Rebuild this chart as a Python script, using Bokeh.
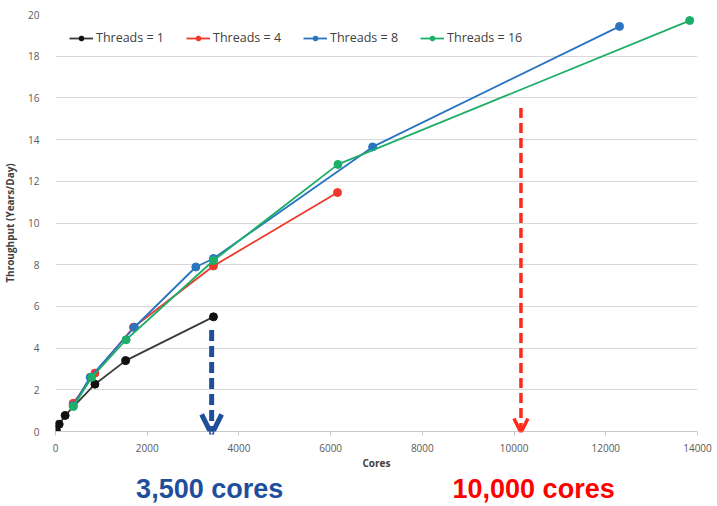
from bokeh.plotting import figure
from bokeh.layouts import column
from bokeh.models import (Legend, LegendItem, Arrow, OpenHead, ColumnDataSource,
                          FixedTicker, Range1d)
from bokeh.core.properties import value
from bokeh.embed import file_html
from bokeh.resources import INLINE

# ---- data ----
cores_t1 = [20, 80, 210, 860, 1530, 3445]
tput_t1 = [0.05, 0.35, 0.77, 2.27, 3.4, 5.5]

cores_t4 = [385, 860, 1700, 3445, 6150]
tput_t4 = [1.35, 2.8, 5.0, 7.94, 11.46]

cores_t8 = [385, 755, 1720, 3060, 3445, 6915, 12300]
tput_t8 = [1.25, 2.6, 5.0, 7.89, 8.3, 13.65, 19.43]

cores_t16 = [390, 790, 1540, 3445, 6160, 13830]
tput_t16 = [1.2, 2.6, 4.4, 8.2, 12.81, 19.71]

series_names = ["Threads = 1", "Threads = 4", "Threads = 8", "Threads = 16"]
series_colors = ["#111111", "#F0382C", "#2A74C0", "#1DAE68"]
line_colors = ["#3A3A3A", "#F0382C", "#2A74C0", "#1DAE68"]

x_ticks = [0, 2000, 4000, 6000, 8000, 10000, 12000, 14000]
y_ticks = [0, 2, 4, 6, 8, 10, 12, 14, 16, 18, 20]

arrow_blue_x = 3405
arrow_blue_y = [4.87, -0.14]
arrow_red_x = 10150
arrow_red_y = [15.52, -0.05]
notes = ["3,500 cores", "10,000 cores"]
notes_x = [3362, 10426]
notes_colors = ["#1F4E9B", "#FF0000"]

FONT = "Open Sans"

p = figure(width=717, height=472, output_backend="svg", toolbar_location=None,
           x_range=Range1d(0, 14000), y_range=Range1d(0, 20),
           min_border_left=55, min_border_right=20, min_border_top=14, min_border_bottom=38)
p.outline_line_color = None
p.background_fill_color = "white"
p.border_fill_color = "white"

p.xgrid.grid_line_color = None
p.ygrid.grid_line_color = "#D9D9D9"
p.ygrid.grid_line_width = 1
p.xaxis.ticker = FixedTicker(ticks=x_ticks)
p.yaxis.ticker = FixedTicker(ticks=y_ticks)
p.xaxis.axis_line_color = "#C8C8C8"
p.xaxis.major_tick_line_color = "#C8C8C8"
p.xaxis.major_tick_in = 0
p.xaxis.major_tick_out = 4
p.xaxis.minor_tick_line_color = None
p.yaxis.axis_line_color = None
p.yaxis.major_tick_line_color = None
p.yaxis.minor_tick_line_color = None
for ax in (p.xaxis, p.yaxis):
    ax.major_label_text_font = FONT
    ax.major_label_text_font_size = "10px"
    ax.major_label_text_color = "#595959"
    ax.axis_label_text_font = FONT
    ax.axis_label_text_font_style = "bold"
    ax.axis_label_text_font_size = "10px"
    ax.axis_label_text_color = "#404040"
p.xaxis.axis_label = "Cores"
p.yaxis.axis_label = "Throughput (Years/Day)"
p.xaxis.major_label_standoff = 8
p.yaxis.major_label_standoff = 10
p.xaxis.axis_label_standoff = 1
p.yaxis.axis_label_standoff = 8

items = []
all_x = [cores_t1, cores_t4, cores_t8, cores_t16]
all_y = [tput_t1, tput_t4, tput_t8, tput_t16]
for name, xs, ys, mc, lc in zip(series_names, all_x, all_y, series_colors, line_colors):
    src = ColumnDataSource(dict(x=xs, y=ys))
    r1 = p.line("x", "y", source=src, line_color=lc, line_width=1.8)
    r2 = p.scatter("x", "y", source=src, size=8, fill_color=mc, line_color=mc)
    items.append(LegendItem(label=name, renderers=[r1, r2]))

legend = Legend(items=items, orientation="horizontal", location=(14, 385),
                border_line_color=None, background_fill_alpha=0,
                label_text_font=FONT, label_text_font_size="12.5px",
                label_text_color="#404040", glyph_width=24, glyph_height=12,
                spacing=22, label_standoff=3, padding=4)
p.add_layout(legend, "center")

# annotations: dashed arrows
p.add_layout(Arrow(x_start=arrow_blue_x, y_start=arrow_blue_y[0], x_end=arrow_blue_x, y_end=arrow_blue_y[1],
                   line_color="#1F4E9B", line_width=5, line_dash="11 5",
                   end=OpenHead(size=20, line_color="#1F4E9B", line_width=5)))
p.add_layout(Arrow(x_start=arrow_red_x, y_start=arrow_red_y[0], x_end=arrow_red_x, y_end=arrow_red_y[1],
                   line_color="#FF2A1A", line_width=3.5, line_dash="10 5",
                   end=OpenHead(size=14, line_color="#FF2A1A", line_width=3.5)))

# strip below the chart carrying the two call-out texts
p2 = figure(width=717, height=34, output_backend="svg", toolbar_location=None,
            x_range=p.x_range, y_range=Range1d(0, 34),
            min_border_left=55, min_border_right=20, min_border_top=0, min_border_bottom=0,
            x_axis_type=None, y_axis_type=None)
p2.outline_line_color = None
p2.grid.grid_line_color = None
p2.border_fill_color = "white"
src_n = ColumnDataSource(dict(x=notes_x, y=[17.2, 17.2], text=notes, color=notes_colors))
p2.text("x", "y", text="text", source=src_n, text_color="color", text_align="center",
        text_baseline="alphabetic", text_font=value("Liberation Sans"), text_font_style="bold",
        text_font_size="27px")

layout = column(p, p2, spacing=0)
open("out.html", "w").write(file_html(layout, INLINE))
